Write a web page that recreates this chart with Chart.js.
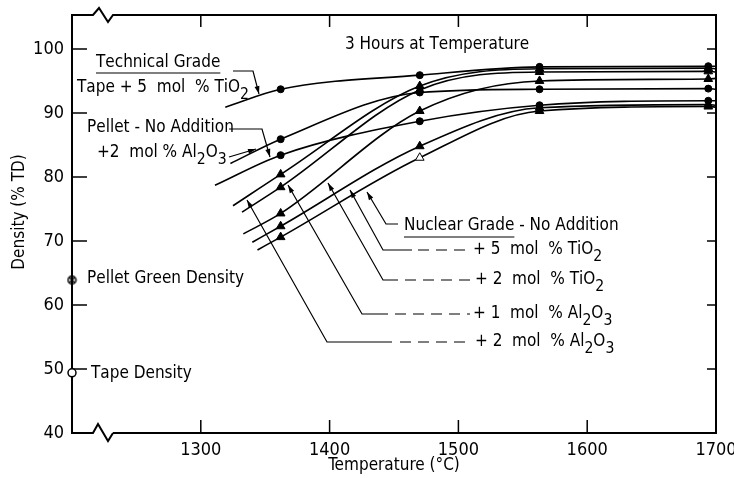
<!DOCTYPE html>
<html lang="en">
<head>
<meta charset="UTF-8">
<title>Density vs Temperature</title>
<script src="https://cdn.jsdelivr.net/npm/chart.js"></script>
<style>
  body { margin: 0; background: #fff; }
  #wrap { width: 734px; height: 478px; }
</style>
</head>
<body>
<div id="wrap"><canvas id="chart" width="734" height="478"></canvas></div>
<script>
// temperatures of the measured specimens (deg C)
const measTemps = [1362, 1470, 1563, 1694];
const xTicks = [1300, 1400, 1500, 1600, 1700];
const yTicks = [40, 50, 60, 70, 80, 90, 100];

// technical grade (circles), density % TD at measTemps
const tapeTi5 = [93.7, 95.9, 97.2, 97.3];
const pelletNone = [83.4, 88.7, 91.2, 91.9];
const pelletAl2 = [85.9, 93.2, 93.7, 93.8];
// nuclear grade (triangles)
const nucNone = [70.6, 83.0, 90.3, 91.0];
const nucTi5 = [72.3, 84.8, 90.8, 91.3];
const nucTi2 = [74.3, 90.3, 95.0, 95.3];
const nucAl1 = [78.4, 93.6, 96.4, 96.5];
const nucAl2 = [80.4, 94.2, 96.9, 97.0];

// where each faired curve starts on the left [temp, density]
const startTape = [1319, 90.9];
const startPelletNone = [1311, 78.7];
const startPelletAl2 = [1323, 82.1];
const startNucNone = [1344, 68.6];
const startNucTi5 = [1340, 69.8];
const startNucTi2 = [1333, 71.1];
const startNucAl1 = [1332, 74.5];
const startNucAl2 = [1325, 75.5];
// level of each curve at the 1700 edge
const edgeLevels = [97.3, 91.9, 93.7, 90.9, 91.2, 95.4, 96.4, 96.9];

// green densities plotted on the axis
const greenPellet = 63.9;
const greenTape = 49.4;

const FONT = '"Liberation Sans Narrow", "DejaVu Sans Condensed", "Arial Narrow", sans-serif';
Chart.defaults.font.family = FONT;
Chart.defaults.color = '#000';

function curve(label, start, vals, edge, shape, radius, fills) {
  const xs = [start[0]].concat(measTemps, [1700]);
  const ys = [start[1]].concat(vals, [edge]);
  return {
    label: label,
    data: xs.map((x, i) => ({ x: x, y: ys[i] })),
    borderColor: '#000',
    borderWidth: 1.6,
    cubicInterpolationMode: 'monotone',
    pointStyle: shape,
    pointRadius: xs.map((x, i) => (i === 0 || i === xs.length - 1) ? 0 : radius),
    pointBackgroundColor: fills || '#000',
    pointBorderColor: '#000',
    pointBorderWidth: 1
  };
}

// circle with a cross for the pellet green density mark
const crossCircle = document.createElement('canvas');
crossCircle.width = 11; crossCircle.height = 11;
(function () {
  const c = crossCircle.getContext('2d');
  c.strokeStyle = '#000'; c.lineWidth = 1.5;
  c.beginPath(); c.arc(5.5, 5.5, 4, 0, Math.PI * 2); c.stroke();
  c.beginPath(); c.moveTo(3, 3); c.lineTo(8, 8); c.moveTo(8, 3); c.lineTo(3, 8); c.stroke();
})();

function rich(ctx, str, x, y, size) {
  // '_' makes the next character a subscript
  ctx.textBaseline = 'middle';
  ctx.textAlign = 'left';
  let cx = x;
  for (let i = 0; i < str.length; i++) {
    let ch = str[i], sub = false;
    if (ch === '_') { sub = true; ch = str[++i]; }
    ctx.font = (sub ? size * 0.92 : size) + 'px ' + FONT;
    ctx.fillText(ch, cx, sub ? y + size * 0.4 : y);
    cx += ctx.measureText(ch).width;
  }
  return cx;
}

function arrowLine(ctx, pts) {
  ctx.setLineDash([]);
  ctx.beginPath();
  ctx.moveTo(pts[0][0], pts[0][1]);
  for (let i = 1; i < pts.length; i++) ctx.lineTo(pts[i][0], pts[i][1]);
  ctx.stroke();
  const a = pts[pts.length - 2], b = pts[pts.length - 1];
  const ang = Math.atan2(b[1] - a[1], b[0] - a[0]);
  ctx.beginPath();
  ctx.moveTo(b[0], b[1]);
  ctx.lineTo(b[0] - 8 * Math.cos(ang) + 2.5 * Math.sin(ang), b[1] - 8 * Math.sin(ang) - 2.5 * Math.cos(ang));
  ctx.lineTo(b[0] - 8 * Math.cos(ang) - 2.5 * Math.sin(ang), b[1] - 8 * Math.sin(ang) + 2.5 * Math.cos(ang));
  ctx.closePath();
  ctx.fill();
}

function dashed(ctx, x1, x2, y) {
  ctx.setLineDash([11, 7]);
  ctx.beginPath(); ctx.moveTo(x1, y); ctx.lineTo(x2, y); ctx.stroke();
  ctx.setLineDash([]);
}

const frame = {
  id: 'frame',
  beforeDatasetsDraw(chart) {
    const ctx = chart.ctx;
    const { left, right, top, bottom } = chart.chartArea;
    const xs = chart.scales.x, ys = chart.scales.y;
    ctx.save();
    ctx.strokeStyle = '#000';
    ctx.lineWidth = 2;
    ctx.beginPath();
    ctx.moveTo(113, bottom);
    ctx.lineTo(108, bottom + 8); ctx.lineTo(98, bottom - 9); ctx.lineTo(93, bottom);
    ctx.lineTo(left, bottom); ctx.lineTo(left, top); ctx.lineTo(93, top);
    ctx.lineTo(99, top - 7); ctx.lineTo(108, top + 7); ctx.lineTo(113, top);
    ctx.lineTo(right, top); ctx.lineTo(right, bottom); ctx.lineTo(113, bottom);
    ctx.stroke();
    ctx.lineWidth = 1.5;
    ctx.beginPath();
    yTicks.forEach(v => {
      if (v === 40) return;
      const p = ys.getPixelForValue(v);
      ctx.moveTo(left, p); ctx.lineTo(left + 15, p);
      ctx.moveTo(right - 9, p); ctx.lineTo(right, p);
    });
    xTicks.forEach(v => {
      if (v === 1700) return;
      const p = xs.getPixelForValue(v);
      ctx.moveTo(p, top); ctx.lineTo(p, top + 12);
      ctx.moveTo(p, bottom); ctx.lineTo(p, bottom - 13);
    });
    ctx.stroke();
    ctx.restore();
  },
  afterDatasetsDraw(chart) {
    const ctx = chart.ctx;
    ctx.save();
    ctx.fillStyle = '#000';
    ctx.strokeStyle = '#000';
    ctx.lineWidth = 1.2;

    // axis titles
    ctx.font = '17px ' + FONT;
    ctx.textAlign = 'center';
    ctx.textBaseline = 'middle';
    ctx.fillText('Temperature (°C)', 394, 466);
    ctx.save();
    ctx.translate(20, 212);
    ctx.rotate(-Math.PI / 2);
    ctx.fillText('Density (% TD)', 0, 0);
    ctx.restore();

    rich(ctx, '3 Hours at Temperature', 345, 45, 17);

    // technical grade labels
    const e1 = rich(ctx, 'Technical Grade', 96, 63, 17);
    ctx.beginPath(); ctx.moveTo(96, 73); ctx.lineTo(e1, 73); ctx.stroke();
    rich(ctx, 'Tape + 5  mol  % TiO_2', 77, 88, 17);
    rich(ctx, 'Pellet - No Addition', 87, 128, 17);
    rich(ctx, '+2  mol % Al_2O_3', 97, 153, 17);
    arrowLine(ctx, [[233, 71], [253, 71], [259, 94]]);
    arrowLine(ctx, [[229, 129], [262, 129], [270, 157]]);
    arrowLine(ctx, [[229, 157], [256, 149]]);

    rich(ctx, 'Pellet Green Density', 87, 279, 17);
    rich(ctx, 'Tape Density', 91, 374, 17);

    // nuclear grade labels
    const e2 = rich(ctx, 'Nuclear Grade', 404, 226, 17);
    ctx.beginPath(); ctx.moveTo(404, 237); ctx.lineTo(e2, 237); ctx.stroke();
    rich(ctx, ' - No Addition', e2, 226, 17);
    arrowLine(ctx, [[398, 224], [386, 224], [367, 192]]);

    arrowLine(ctx, [[412, 250], [383, 250], [350, 190]]);
    dashed(ctx, 418, 470, 250);
    rich(ctx, '+ 5  mol  % TiO_2', 473, 250, 17);

    arrowLine(ctx, [[398, 280], [383, 280], [328, 183]]);
    dashed(ctx, 405, 470, 280);
    rich(ctx, '+ 2  mol  % TiO_2', 475, 280, 17);

    arrowLine(ctx, [[388, 314], [362, 314], [288, 185]]);
    dashed(ctx, 395, 470, 314);
    rich(ctx, '+ 1  mol  % Al_2O_3', 473, 314, 17);

    arrowLine(ctx, [[392, 342], [327, 342], [247, 200]]);
    dashed(ctx, 400, 472, 342);
    rich(ctx, '+ 2  mol  % Al_2O_3', 475, 342, 17);
    ctx.restore();
  }
};

new Chart(document.getElementById('chart'), {
  type: 'line',
  data: {
    datasets: [
      curve('Tape + 5 mol % TiO2', startTape, tapeTi5, edgeLevels[0], 'circle', 3.5),
      curve('Pellet - No Addition', startPelletNone, pelletNone, edgeLevels[1], 'circle', 3.5),
      curve('Pellet + 2 mol % Al2O3', startPelletAl2, pelletAl2, edgeLevels[2], 'circle', 3.5),
      curve('Nuclear - No Addition', startNucNone, nucNone, edgeLevels[3], 'triangle', 5,
        ['#000', '#000', '#fff', '#000', '#000', '#000']),
      curve('Nuclear + 5 mol % TiO2', startNucTi5, nucTi5, edgeLevels[4], 'triangle', 5),
      curve('Nuclear + 2 mol % TiO2', startNucTi2, nucTi2, edgeLevels[5], 'triangle', 5),
      curve('Nuclear + 1 mol % Al2O3', startNucAl1, nucAl1, edgeLevels[6], 'triangle', 5),
      curve('Nuclear + 2 mol % Al2O3', startNucAl2, nucAl2, edgeLevels[7], 'triangle', 5),
      {
        label: 'Pellet Green Density',
        data: [{ x: 1200, y: greenPellet }],
        showLine: false,
        pointStyle: crossCircle,
        clip: false
      },
      {
        label: 'Tape Density',
        data: [{ x: 1200, y: greenTape }],
        showLine: false,
        pointRadius: 4,
        pointBackgroundColor: '#fff',
        pointBorderColor: '#000',
        pointBorderWidth: 1.5,
        clip: false
      }
    ]
  },
  options: {
    responsive: false,
    animation: false,
    layout: { padding: { top: 15, right: 18, left: 0, bottom: 0 } },
    plugins: { legend: { display: false }, tooltip: { enabled: false } },
    scales: {
      x: {
        type: 'linear',
        min: 1200,
        max: 1700,
        grid: { display: false, drawTicks: false },
        border: { display: false },
        afterBuildTicks: s => { s.ticks = xTicks.map(v => ({ value: v })); },
        afterFit: s => { s.height = 45; s.paddingLeft = 0; s.paddingRight = 0; },
        ticks: { padding: 7, maxRotation: 0, font: { size: 18 }, callback: v => String(v) }
      },
      y: {
        type: 'linear',
        min: 40,
        max: 105.3,
        grid: { display: false, drawTicks: false },
        border: { display: false },
        afterBuildTicks: s => { s.ticks = yTicks.map(v => ({ value: v })); },
        afterFit: s => { s.width = 72; s.paddingTop = 0; s.paddingBottom = 0; },
        ticks: { padding: 8, font: { size: 18 }, callback: v => String(v) }
      }
    }
  },
  plugins: [frame]
});
</script>
</body>
</html>
